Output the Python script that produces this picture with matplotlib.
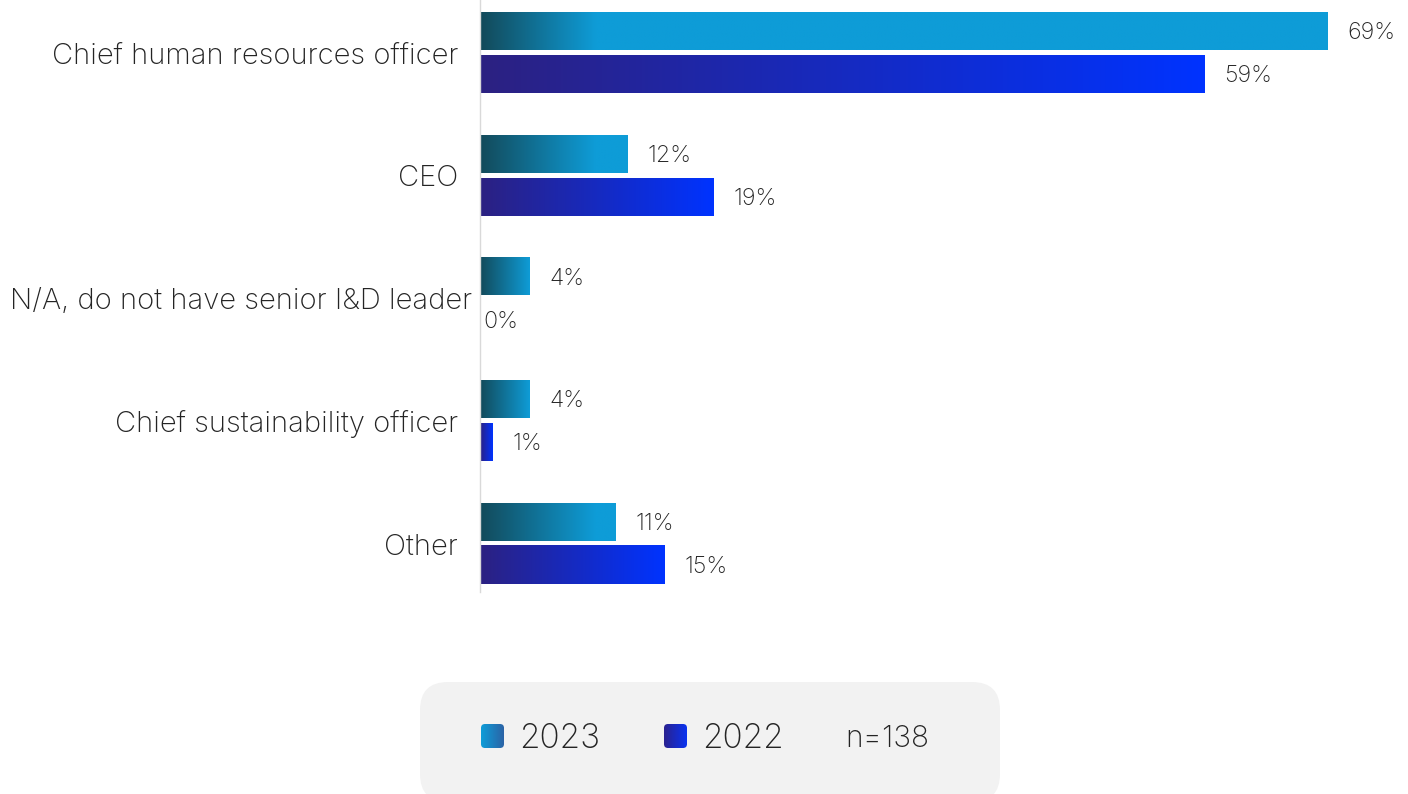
import numpy as np
import matplotlib
matplotlib.use('Agg')
import matplotlib.pyplot as plt
from matplotlib.colors import to_rgb
from matplotlib.patches import FancyBboxPatch

# --- data ---
categories = [
    "Chief human resources officer",
    "CEO",
    "N/A, do not have senior I&D leader",
    "Chief sustainability officer",
    "Other",
]
share_2023 = [69, 12, 4, 4, 11]
share_2022 = [59, 19, 0, 1, 15]
series_names = ["2023", "2022"]
sample_note = "n=138"

# --- styling ---
W, H, DPI = 1408, 794, 100
TEXT_COLOR = '#242424'
GRAD_2023 = ('#134a5a', '#0e9cd7')
GRAD_2022 = ('#2c2181', '#0033ff')
KEY_2023 = ('#0e9dd8', '#2b63a6')
KEY_2022 = ('#2a2290', '#0a33f0')
XMAX = 75
AX_LEFT, AX_RIGHT, AX_HEIGHT = 480, 1401, 592
GROUP_STEP = 122.75          # px between category centres
FIRST_CENTER = 52.5          # px from top to first centre
BAR_PX, OFFSET_PX = 38, 21.5
RAMP_PX = 115                # length of the dark lead-in on the 2023 bars
WEIGHT = 'light'

plt.rcParams['font.family'] = ['Inter', 'DejaVu Sans']

fig = plt.figure(figsize=(W / DPI, H / DPI), dpi=DPI)
ax = fig.add_axes([AX_LEFT / W, (H - AX_HEIGHT) / H,
                   (AX_RIGHT - AX_LEFT) / W, AX_HEIGHT / H])

px_per_x = (AX_RIGHT - AX_LEFT) / XMAX
bar_h = BAR_PX / GROUP_STEP
off = OFFSET_PX / GROUP_STEP


def gradient_bar(y, value, colors, ramp_px=None):
    if value <= 0:
        return
    xs = np.linspace(0, 1, 300)
    if ramp_px is not None:
        width_px = value * px_per_x
        t = np.clip(xs * width_px / min(ramp_px, width_px), 0, 1)
    else:
        t = xs
    a, b = np.array(to_rgb(colors[0])), np.array(to_rgb(colors[1]))
    img = a + (b - a) * t[:, None]
    ax.imshow(img[None, :, :], extent=[0, value, y + bar_h / 2, y - bar_h / 2],
              aspect='auto', interpolation='bilinear', zorder=2)


def value_label(y, value):
    dx = 14.4 if value > 0 else 2.2
    ax.annotate(f"{value}%", (value, y), xytext=(dx, -1.5), textcoords='offset points',
                ha='left', va='center', fontsize=16.8, color=TEXT_COLOR,
                fontweight=WEIGHT)


for i, (v23, v22) in enumerate(zip(share_2023, share_2022)):
    gradient_bar(i - off, v23, GRAD_2023, ramp_px=RAMP_PX)
    gradient_bar(i + off, v22, GRAD_2022)
    value_label(i - off, v23)
    value_label(i + off, v22)

top = -FIRST_CENTER / GROUP_STEP
ax.set_xlim(0, XMAX)
ax.set_ylim(top + AX_HEIGHT / GROUP_STEP, top)

for s in ['top', 'right', 'bottom']:
    ax.spines[s].set_visible(False)
ax.spines['left'].set_color('#d9d9d9')
ax.spines['left'].set_linewidth(1.0)
ax.set_xticks([])
ax.set_yticks([])

# category labels, right aligned next to the axis line
ytrans = ax.get_yaxis_transform()
label_x = -22 / (AX_RIGHT - AX_LEFT)
label_dy = 3.5 / GROUP_STEP
cat_texts = [ax.text(label_x, i + label_dy, c, transform=ytrans, ha='right', va='center',
                     fontsize=21, color=TEXT_COLOR, fontweight=WEIGHT)
             for i, c in enumerate(categories)]

# keep long labels inside the left edge
fig.canvas.draw()
renderer = fig.canvas.get_renderer()
for t in cat_texts:
    bb = t.get_window_extent(renderer)
    if bb.x0 < 10:
        t.set_x(label_x + (10 - bb.x0) / (AX_RIGHT - AX_LEFT))

# --- legend panel ---
lax = fig.add_axes([0, 0, 1, 1], zorder=-1)
lax.set_xlim(0, W)
lax.set_ylim(H, 0)
lax.axis('off')

panel = FancyBboxPatch((420, 682), 580, 120, boxstyle='round,pad=0,rounding_size=28',
                       fc='#f2f2f2', ec='none')
lax.add_patch(panel)


def key_square(x0, colors):
    a, b = np.array(to_rgb(colors[0])), np.array(to_rgb(colors[1]))
    t = np.linspace(0, 1, 50)
    img = a + (b - a) * t[:, None]
    im = lax.imshow(img[None, :, :], extent=[x0, x0 + 23, 748, 724],
                    aspect='auto', interpolation='bilinear', zorder=3)
    clip = FancyBboxPatch((x0, 724), 23, 24, boxstyle='round,pad=0,rounding_size=4',
                          fc='none', ec='none')
    lax.add_patch(clip)
    im.set_clip_path(clip)


key_square(481, KEY_2023)
key_square(664, KEY_2022)
lax.text(519, 739, series_names[0], ha='left', va='center', fontsize=24,
         color=TEXT_COLOR, fontweight=WEIGHT)
lax.text(702, 739, series_names[1], ha='left', va='center', fontsize=24,
         color=TEXT_COLOR, fontweight=WEIGHT)
lax.text(845, 739, sample_note, ha='left', va='center', fontsize=21.5,
         color=TEXT_COLOR, fontweight=WEIGHT)

fig.savefig('out.png', dpi=DPI)
